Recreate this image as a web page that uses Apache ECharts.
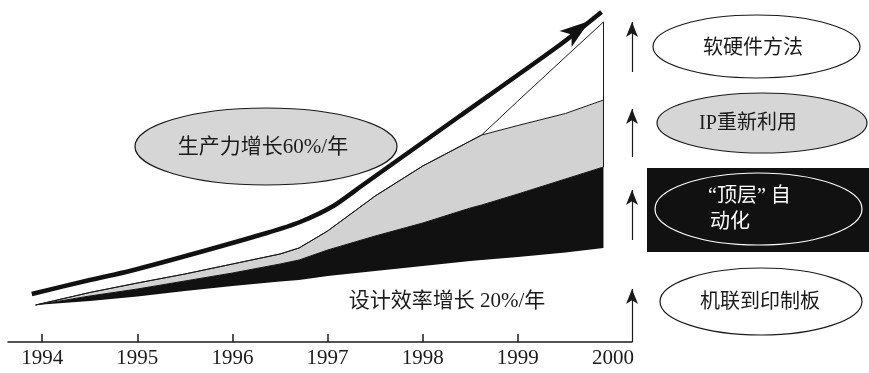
<!DOCTYPE html>
<html>
<head>
<meta charset="utf-8">
<script src="https://cdn.jsdelivr.net/npm/echarts@6/dist/echarts.min.js"></script>
<style>
  html, body { margin: 0; padding: 0; background: #fff; }
  #chart { width: 869px; height: 373px; }
</style>
</head>
<body>
<div id="chart"></div>
<script>
// years on the x axis
const labelYears = [1994, 1995, 1996, 1997, 1998, 1999, 2000]
const tickYears = [1994, 1995, 1996, 1997, 1998, 1999]

// band boundaries (cumulative productivity, arbitrary units)
const bandYears = [1993.93, 1994.5, 1995, 1995.5, 1996, 1996.5, 1996.7, 1997, 1997.5, 1998, 1998.5, 1998.62, 1999, 1999.5, 1999.9]
const designEff = [37, 41, 45.5, 51, 56, 60.5, 62, 66, 71, 76, 81, 82, 85, 89.5, 94]
const topDownAuto = [37, 46, 53, 61, 69, 78, 82, 92, 106, 119, 134, 137, 148, 163, 175]
const ipReuse = [37, 49.5, 59, 68, 78, 88, 94, 111, 146, 176, 201, 207, 216.5, 228.5, 242]
const hwswYears = [1998.62, 1999, 1999.5, 1999.9]
const hwswMethods = [207, 241, 285, 320]

// productivity 60%/yr curve
const prodYears = [1993.89, 1994.5, 1994.92, 1995.66, 1996.36, 1996.71, 1997.06, 1997.37, 1998.39, 1999.44, 1999.88]
const productivity = [48, 62, 71, 90, 109, 120, 136, 157, 226, 297, 330]

// right-hand arrows [from, to]
const stepArrows = [[0, 53], [102, 152], [185, 233], [270, 320]]

const xMin = 1993.64
const xMax = 2000.2
const tickLen = 8
const ink = '#1a1a1a'
const grey = '#d2d2d2'
const cjk = '"Liberation Serif", "Noto Sans CJK SC", serif'

const pairs = (xs, ys) => xs.map((x, i) => [x, ys[i]])
// value first, year second: keeps the stack on the y dimension
const stackPairs = (xs, ys) => xs.map((x, i) => [ys[i], x])

// stacked band thicknesses
const blackBand = topDownAuto.map((v, i) => v - designEff[i])
const greyBand = ipReuse.map((v, i) => v - topDownAuto[i])
const hwswBand = bandYears.map((x, i) => {
  const k = hwswYears.indexOf(x)
  return k < 0 ? 0 : hwswMethods[k] - ipReuse[i]
})

const lastX = bandYears[bandYears.length - 1]

const prodData = pairs(prodYears, productivity)
const tip = prodData.pop()
prodData.push({
  value: tip,
  symbol: 'arrow',
  symbolSize: [15, 30],
  symbolRotate: -53,
  symbolOffset: [-12, 9]
})

const guideLines = stepArrows.map(a => [{ coord: [xMax, a[0]] }, { coord: [xMax, a[1]] }])
// right edge of the stacked area
guideLines.push([
  { coord: [lastX, topDownAuto[topDownAuto.length - 1]], symbol: 'none', lineStyle: { width: 1 } },
  { coord: [lastX, hwswMethods[hwswMethods.length - 1]], symbol: 'none' }
])
// year ticks standing on the axis
tickYears.forEach(y => {
  guideLines.push([
    { coord: [y, 0], symbol: 'none', lineStyle: { width: 1.5 } },
    { coord: [y, tickLen], symbol: 'none' }
  ])
})

const bandSeries = (name, values, color, lineColor) => ({
  name,
  type: 'line',
  stack: 'band',
  symbol: 'none',
  encode: { x: 1, y: 0 },
  data: stackPairs(bandYears, values),
  lineStyle: lineColor ? { color: lineColor, width: 1 } : { width: 0 },
  areaStyle: color ? { color, opacity: 1 } : undefined
})

const chart = echarts.init(document.getElementById('chart'))

chart.setOption({
  animation: false,
  grid: { left: 8, right: 237, top: 10, bottom: 31 },
  xAxis: {
    type: 'value',
    min: xMin,
    max: xMax,
    z: 8,
    axisLine: { lineStyle: { color: ink, width: 1.5 } },
    axisTick: { show: false },
    axisLabel: {
      customValues: labelYears,
      formatter: v => String(v),
      fontFamily: '"Liberation Serif", serif',
      fontSize: 21,
      color: ink,
      margin: 6
    },
    splitLine: { show: false }
  },
  yAxis: { type: 'value', min: 0, max: 332, show: false },
  series: [
    bandSeries('设计效率增长', designEff, null, null),
    bandSeries('“顶层”自动化', blackBand, '#111', '#111'),
    bandSeries('IP重新利用', greyBand, grey, ink),
    bandSeries('软硬件方法', hwswBand, '#fff', ink),
    {
      name: '生产力增长60%/年',
      type: 'line',
      z: 5,
      clip: false,
      smooth: 0.25,
      symbol: 'none',
      data: prodData,
      lineStyle: { color: '#111', width: 4.5 },
      itemStyle: { color: '#111' },
      markLine: {
        silent: true,
        symbol: ['none', 'arrow'],
        symbolSize: [9, 15],
        label: { show: false },
        lineStyle: { color: ink, width: 1.2, type: 'solid' },
        data: guideLines
      }
    }
  ],
  graphic: [
    {
      type: 'ellipse', z: 10,
      shape: { cx: 266, cy: 146.5, rx: 131, ry: 38.5 },
      style: { fill: '#d6d6d6', stroke: ink, lineWidth: 1.2 }
    },
    {
      type: 'text', z: 11, x: 263, y: 147,
      style: { text: '生产力增长60%/年', font: '21px ' + cjk, fill: ink, align: 'center', verticalAlign: 'middle' }
    },
    {
      type: 'text', z: 11, x: 447, y: 301,
      style: { text: '设计效率增长 20%/年', font: '21px ' + cjk, fill: ink, align: 'center', verticalAlign: 'middle' }
    },
    {
      type: 'ellipse', z: 10,
      shape: { cx: 756.5, cy: 46.5, rx: 103.5, ry: 31.5 },
      style: { fill: '#fff', stroke: ink, lineWidth: 1.2 }
    },
    {
      type: 'text', z: 11, x: 753, y: 49,
      style: { text: '软硬件方法', font: '20px ' + cjk, fill: ink, align: 'center', verticalAlign: 'middle' }
    },
    {
      type: 'ellipse', z: 10,
      shape: { cx: 762, cy: 123, rx: 105, ry: 30 },
      style: { fill: '#d6d6d6', stroke: ink, lineWidth: 1.2 }
    },
    {
      type: 'text', z: 11, x: 748, y: 124,
      style: { text: 'IP重新利用', font: '20px ' + cjk, fill: ink, align: 'center', verticalAlign: 'middle' }
    },
    {
      type: 'rect', z: 10,
      shape: { x: 647, y: 168, width: 222, height: 84 },
      style: { fill: '#111' }
    },
    {
      type: 'ellipse', z: 11,
      shape: { cx: 758.5, cy: 209, rx: 103.5, ry: 36 },
      style: { fill: '#111', stroke: '#fff', lineWidth: 1.2 }
    },
    {
      type: 'text', z: 12, x: 708, y: 197,
      style: { text: '“顶层” 自', font: '20px ' + cjk, fill: '#fff', align: 'left', verticalAlign: 'middle' }
    },
    {
      type: 'text', z: 12, x: 710, y: 223,
      style: { text: '动化', font: '20px ' + cjk, fill: '#fff', align: 'left', verticalAlign: 'middle' }
    },
    {
      type: 'ellipse', z: 10,
      shape: { cx: 761, cy: 301.5, rx: 101, ry: 33.5 },
      style: { fill: '#fff', stroke: ink, lineWidth: 1.2 }
    },
    {
      type: 'text', z: 11, x: 760, y: 303,
      style: { text: '机联到印制板', font: '20px ' + cjk, fill: ink, align: 'center', verticalAlign: 'middle' }
    }
  ]
})
</script>
</body>
</html>
